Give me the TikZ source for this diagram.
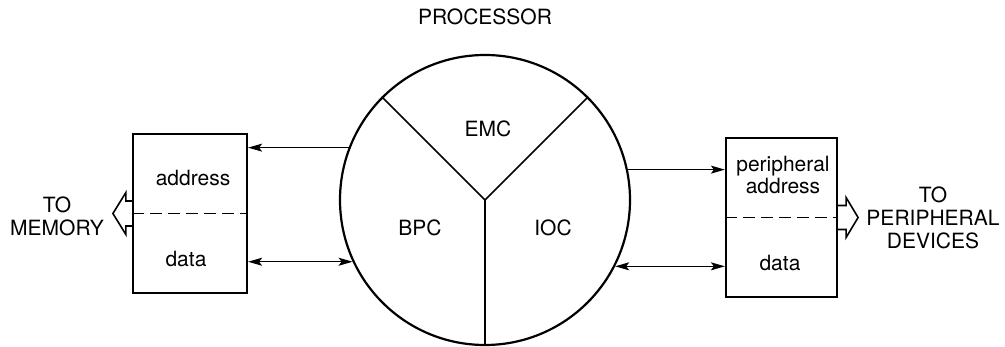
\documentclass[tikz,border=0pt]{standalone}
\usepackage{fontspec}
\setmainfont{TeX Gyre Heros}
\usetikzlibrary{arrows.meta}
\begin{document}
\begin{tikzpicture}[x=1pt,y=-1pt,
  lbl/.style={font=\fontsize{21}{24}\selectfont, inner sep=0pt, align=center},
  regbox/.style={draw, line width=2.2pt, inner sep=0pt},
  tip/.tip={Stealth[length=14pt,width=8pt,inset=3pt]},
  conn/.style={line width=1.2pt, -tip},
  biconn/.style={line width=1.2pt, tip-tip},
  hollow/.style={draw, fill=white, line width=1.6pt, line join=miter},
  divider/.style={line width=1.5pt, dash pattern=on 12pt off 6pt}]
\useasboundingbox (0,0) rectangle (1005,347);
% processor circle
\node[draw, circle, line width=2.2pt, inner sep=0pt, minimum size=290pt] (proc) at (485,200) {};
\draw[line width=1.7pt] (proc.center) -- (proc.135);
\draw[line width=1.7pt] (proc.center) -- (proc.45);
\draw[line width=1.7pt] (proc.center) -- (proc.270);
\node[lbl] (title) at (485,17) {PROCESSOR};
\node[lbl] (emc) at (488,129) {EMC};
\node[lbl] (bpc) at (420,228) {BPC};
\node[lbl] (ioc) at (553,228) {IOC};
% left register box
\node[regbox, minimum width=114pt, minimum height=159pt] (lbox) at (190,213.5) {};
\draw[divider] (lbox.west) -- (lbox.east);
\node[lbl] (laddr) at (193,178) {address};
\node[lbl] (ldata) at (186,259) {data};
% right register box
\node[regbox, minimum width=111pt, minimum height=159pt] (rbox) at (781.5,217.5) {};
\draw[divider] (rbox.west) -- (rbox.east);
\node[lbl] (raddr) at (783,175) {peripheral\\[-2pt]address};
\node[lbl] (rdata) at (780,263) {data};
% connectors
\draw[conn] (proc.159.4) -- (proc.159.4 -| lbox.east);
\draw[biconn] (proc.205.8 -| lbox.east) -- (proc.205.8);
\draw[conn] (proc.12.3) -- (proc.12.3 -| rbox.west);
\draw[biconn] (proc.333.4) -- (proc.333.4 -| rbox.west);
% hollow arrows
\draw[hollow] ([shift={(0,-12.5)}]lbox.west) -- ++(-6,0) -- ++(0,-8.5) -- ++(-13,21) -- ++(13,21) -- ++(0,-8.5) -- ++(6,0);
\draw[hollow] ([shift={(0,-12)}]rbox.east) -- ++(8,0) -- ++(0,-8) -- ++(12,20) -- ++(-12,20) -- ++(0,-8) -- ++(-8,0);
% outside labels
\node[lbl] (tomem) at (57,216) {TO\\[-1pt]MEMORY};
\node[lbl] (toper) at (933,218) {TO\\[-1pt]PERIPHERAL\\[-1pt]DEVICES};
\end{tikzpicture}
\end{document}
